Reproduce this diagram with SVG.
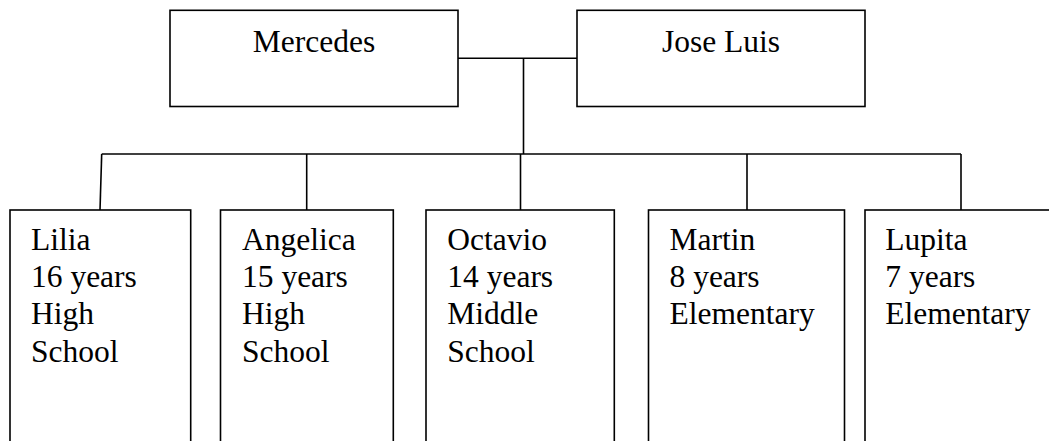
<svg xmlns="http://www.w3.org/2000/svg" width="1049" height="441" viewBox="0 0 1049 441">
<style>
.box{fill:#fff;stroke:#000;stroke-width:1.6}
.ln{fill:none;stroke:#000;stroke-width:1.6}
text{font-family:"Liberation Serif","Times New Roman",serif;font-size:31.5px;fill:#000}
</style>
<rect width="1049" height="441" fill="#fff"/>
<g id="connectors">
<line class="ln" x1="458" y1="58.3" x2="577" y2="58.3"/>
<line class="ln" x1="523.5" y1="58.3" x2="523.5" y2="154"/>
<line class="ln" x1="101.7" y1="154" x2="961" y2="154"/>
<line class="ln" x1="101.7" y1="154" x2="100" y2="210"/>
<line class="ln" x1="306.7" y1="154" x2="306.7" y2="210"/>
<line class="ln" x1="520.5" y1="154" x2="520.5" y2="210"/>
<line class="ln" x1="747" y1="154" x2="747" y2="210"/>
<line class="ln" x1="961" y1="154" x2="961" y2="210"/>
</g>
<g id="mercedes">
<rect class="box" x="170" y="10.3" width="288" height="96.2"/>
<text x="314" y="51.7" text-anchor="middle">Mercedes</text>
</g>
<g id="jose-luis">
<rect class="box" x="577" y="10.3" width="288" height="96.2"/>
<text x="721" y="51.7" text-anchor="middle">Jose Luis</text>
</g>
<g id="lilia">
<rect class="box" x="10" y="210" width="180.7" height="250"/>
<text x="31" y="250"><tspan x="31">Lilia</tspan><tspan x="31" dy="37">16 years</tspan><tspan x="31" dy="36.5">High</tspan><tspan x="31" dy="38">School</tspan></text>
</g>
<g id="angelica">
<rect class="box" x="220.5" y="210" width="172.8" height="250"/>
<text x="242" y="250"><tspan x="242">Angelica</tspan><tspan x="242" dy="37">15 years</tspan><tspan x="242" dy="36.5">High</tspan><tspan x="242" dy="38">School</tspan></text>
</g>
<g id="octavio">
<rect class="box" x="426" y="210" width="188.3" height="250"/>
<text x="447.3" y="250"><tspan x="447.3">Octavio</tspan><tspan x="447.3" dy="37">14 years</tspan><tspan x="447.3" dy="36.5">Middle</tspan><tspan x="447.3" dy="38">School</tspan></text>
</g>
<g id="martin">
<rect class="box" x="648.5" y="210" width="196" height="250"/>
<text x="669.5" y="250"><tspan x="669.5">Martin</tspan><tspan x="669.5" dy="37">8 years</tspan><tspan x="669.5" dy="36.5">Elementary</tspan></text>
</g>
<g id="lupita">
<rect class="box" x="865" y="210" width="200" height="250"/>
<text x="885.3" y="250"><tspan x="885.3">Lupita</tspan><tspan x="885.3" dy="37">7 years</tspan><tspan x="885.3" dy="36.5">Elementary</tspan></text>
</g>
</svg>
